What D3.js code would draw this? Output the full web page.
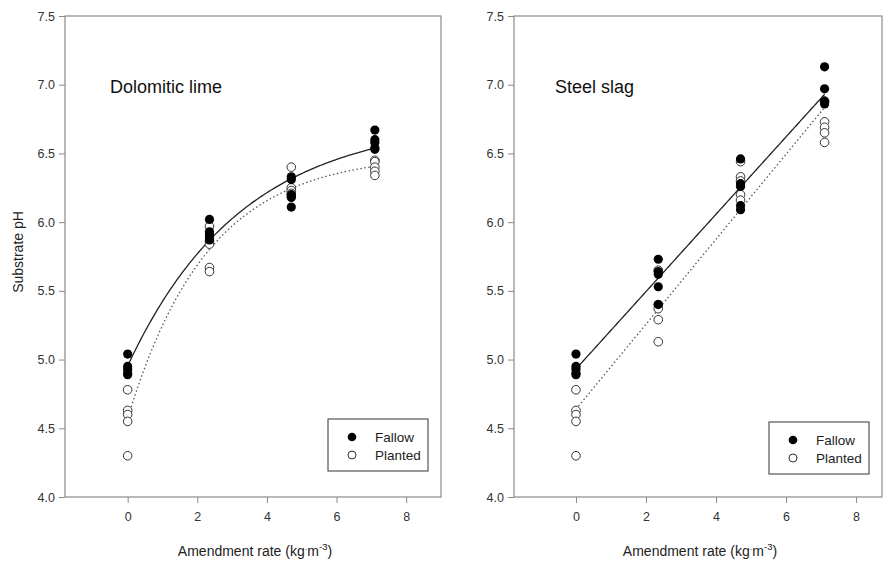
<!DOCTYPE html>
<html>
  <head>
    <meta charset="utf-8" />
    <style>
      body { margin: 0; background: #fff; }
      text { font-family: "Liberation Sans", Arial, sans-serif; }
    </style>
  </head>
  <body>
    <svg width="884" height="563"></svg>
    <script src="https://cdn.jsdelivr.net/npm/d3@7"></script>
    <script>
      // amendment rates (kg m-3)
      var rates = [0, 2.35, 4.7, 7.1];

      // substrate pH readings, one array per rate
      var limeFallow = [
        [5.04, 4.95, 4.93, 4.9, 4.89],
        [6.02, 5.93, 5.91, 5.89, 5.87],
        [6.33, 6.31, 6.2, 6.18, 6.11],
        [6.67, 6.6, 6.58, 6.54, 6.53]
      ];
      var limePlanted = [
        [4.78, 4.63, 4.6, 4.55, 4.3],
        [5.97, 5.86, 5.84, 5.67, 5.64],
        [6.4, 6.25, 6.23, 6.21, 6.19],
        [6.45, 6.44, 6.4, 6.37, 6.34]
      ];
      var slagFallow = [
        [5.04, 4.95, 4.93, 4.9, 4.89],
        [5.73, 5.64, 5.62, 5.53, 5.4],
        [6.46, 6.28, 6.26, 6.12, 6.09],
        [7.13, 6.97, 6.88, 6.87, 6.86]
      ];
      var slagPlanted = [
        [4.78, 4.63, 4.6, 4.55, 4.3],
        [5.65, 5.4, 5.37, 5.29, 5.13],
        [6.44, 6.33, 6.3, 6.2, 6.16],
        [6.88, 6.73, 6.69, 6.65, 6.58]
      ];

      var xTicks = [0, 2, 4, 6, 8];
      var yTicks = [4.0, 4.5, 5.0, 5.5, 6.0, 6.5, 7.0, 7.5];
      var seriesNames = ["Fallow", "Planted"];

      var svg = d3.select("svg");

      function flatten(groups) {
        var out = [];
        groups.forEach(function(g, i) {
          g.forEach(function(v) {
            out.push({ x: rates[i], y: v });
          });
        });
        return out;
      }

      function linReg(pts) {
        var mx = d3.mean(pts, function(d) { return d.x; }),
          my = d3.mean(pts, function(d) { return d.y; });
        var sxy = d3.sum(pts, function(d) { return (d.x - mx) * (d.y - my); }),
          sxx = d3.sum(pts, function(d) { return (d.x - mx) * (d.x - mx); });
        var k = sxy / sxx;
        return { k: k, a: my - k * mx };
      }

      // y = a + k*exp(-c*x), c found by scanning
      function expFit(pts) {
        var best = null;
        for (var c = 0.05; c < 2; c += 0.002) {
          var z = pts.map(function(d) { return { x: Math.exp(-c * d.x), y: d.y }; });
          var r = linReg(z);
          var sse = d3.sum(z, function(d) { var e = d.y - (r.a + r.k * d.x); return e * e; });
          if (!best || sse < best.sse) best = { sse: sse, a: r.a, k: r.k, c: c };
        }
        return function(x) { return best.a + best.k * Math.exp(-best.c * x); };
      }

      function linFit(pts) {
        var r = linReg(pts);
        return function(x) { return r.a + r.k * x; };
      }

      function panel(opt) {
        var x = d3.scaleLinear().domain(opt.xDomain).range(opt.xRange);
        var y = d3.scaleLinear().domain([4, 7.5]).range([497, 16]);
        var g = svg.append("g");

        // frame
        g.append("rect")
          .attr("x", opt.xRange[0])
          .attr("y", 16)
          .attr("width", opt.xRange[1] - opt.xRange[0])
          .attr("height", 481)
          .attr("fill", "none")
          .attr("stroke", "#8a8a8a")
          .attr("stroke-width", 1.2);

        var xAxis = g.append("g")
          .attr("transform", "translate(0,497)")
          .call(d3.axisBottom(x).tickValues(xTicks).tickSize(6).tickPadding(9).tickFormat(d3.format("d")));
        var yAxis = g.append("g")
          .attr("transform", "translate(" + opt.xRange[0] + ",0)")
          .call(d3.axisLeft(y).tickValues(yTicks).tickSize(6).tickPadding(4).tickFormat(d3.format(".1f")));
        [xAxis, yAxis].forEach(function(a) {
          a.select(".domain").remove();
          a.selectAll("line").attr("stroke", "#8a8a8a");
          a.selectAll("text").attr("fill", "#333").style("font-size", "12.5px")
            .style("font-family", "'Liberation Sans', Arial, sans-serif");
        });

        // fitted curves
        var xs = d3.range(0, 7.1001, 0.05);
        var line = d3.line()
          .x(function(d) { return x(d[0]); })
          .y(function(d) { return y(d[1]); });
        var fitF = opt.fit(flatten(opt.fallow)),
          fitP = opt.fit(flatten(opt.planted));
        g.append("path")
          .attr("d", line(xs.map(function(v) { return [v, fitP(v)]; })))
          .attr("fill", "none")
          .attr("stroke", "#555")
          .attr("stroke-width", 1.3)
          .attr("stroke-dasharray", "1.5,2.5");
        g.append("path")
          .attr("d", line(xs.map(function(v) { return [v, fitF(v)]; })))
          .attr("fill", "none")
          .attr("stroke", "#222")
          .attr("stroke-width", 1.3);

        // points
        g.selectAll(".planted")
          .data(flatten(opt.planted))
          .enter()
          .append("circle")
          .attr("cx", function(d) { return x(d.x); })
          .attr("cy", function(d) { return y(d.y); })
          .attr("r", 4.3)
          .attr("fill", "#fff")
          .attr("stroke", "#333")
          .attr("stroke-width", 1);
        g.selectAll(".fallow")
          .data(flatten(opt.fallow))
          .enter()
          .append("circle")
          .attr("cx", function(d) { return x(d.x); })
          .attr("cy", function(d) { return y(d.y); })
          .attr("r", 4.6)
          .attr("fill", "#000");

        // title
        g.append("text")
          .attr("x", opt.titleX)
          .attr("y", 93)
          .attr("font-size", "18px")
          .attr("fill", "#111")
          .text(opt.title);

        // x label
        var xl = g.append("text")
          .attr("x", opt.labelX)
          .attr("y", 556)
          .attr("text-anchor", "middle")
          .attr("font-size", "14px")
          .attr("fill", "#222");
        xl.append("tspan").text("Amendment rate (kg");
        xl.append("tspan").attr("font-size", "8px").attr("dy", "-4").text("·");
        xl.append("tspan").attr("dy", "4").text("m");
        xl.append("tspan").attr("font-size", "9.5px").attr("dy", "-6").text("-3");
        xl.append("tspan").attr("dy", "6").text(")");

        // legend
        var lg = g.append("g").attr("transform", "translate(" + opt.legend[0] + "," + opt.legend[1] + ")");
        lg.append("rect")
          .attr("width", 100)
          .attr("height", 52)
          .attr("fill", "#fff")
          .attr("stroke", "#555")
          .attr("stroke-width", 1.2);
        seriesNames.forEach(function(name, i) {
          lg.append("circle")
            .attr("cx", 24)
            .attr("cy", 18 + i * 18)
            .attr("r", i === 0 ? 4.3 : 4)
            .attr("fill", i === 0 ? "#000" : "#fff")
            .attr("stroke", i === 0 ? "none" : "#333");
          lg.append("text")
            .attr("x", 47)
            .attr("y", 23 + i * 18)
            .attr("font-size", "13.5px")
            .attr("fill", "#222")
            .text(name);
        });
      }

      panel({
        title: "Dolomitic lime",
        titleX: 110,
        xDomain: [-1.8, 9],
        xRange: [65, 441],
        fallow: limeFallow,
        planted: limePlanted,
        fit: expFit,
        labelX: 255,
        legend: [328, 419]
      });

      panel({
        title: "Steel slag",
        titleX: 555,
        xDomain: [-1.77, 8.74],
        xRange: [514, 882],
        fallow: slagFallow,
        planted: slagPlanted,
        fit: linFit,
        labelX: 700,
        legend: [769, 422]
      });

      svg.append("text")
        .attr("transform", "translate(23,252) rotate(-90)")
        .attr("text-anchor", "middle")
        .attr("font-size", "14px")
        .attr("fill", "#222")
        .text("Substrate pH");
    </script>
  </body>
</html>
